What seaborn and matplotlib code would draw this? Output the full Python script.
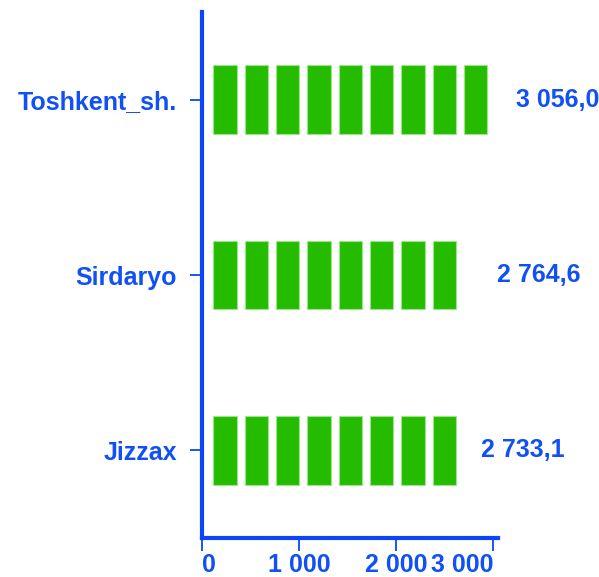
import matplotlib
matplotlib.use("Agg")
import matplotlib.pyplot as plt
import seaborn as sns
import pandas as pd

# data
REGIONS = ["Toshkent_sh.", "Sirdaryo", "Jizzax"]
VALUES = [3056.0, 2764.6, 2733.1]
VALUE_LABELS = ["3 056,0", "2 764,6", "2 733,1"]
XTICKS = [0, 1000, 2000, 3000]
XTICK_LABELS = ["0", "1 000", "2 000", "3 000"]

# pictograph tiles: one tile per TILE_UNIT of value
TILE_UNIT = 323
TILE_START = 116
TILE_W = 241

GREEN = "#25BC00"
BLUE = "#0B45F8"
TEXT_BLUE = "#1050F5"
FS = 18

sns.set_style("white")
plt.rcParams["font.family"] = ["Liberation Sans", "DejaVu Sans"]
plt.rcParams["font.weight"] = "bold"

df = pd.DataFrame({"region": REGIONS, "value": VALUES})
df["n_tiles"] = (df["value"] // TILE_UNIT).astype(int)
tiles = df.loc[df.index.repeat(df["n_tiles"])].copy()
tiles["k"] = tiles.groupby("region").cumcount()
tiles["w"] = TILE_W

fig = plt.figure(figsize=(5.99, 5.77), dpi=100)
ax = fig.add_axes([202 / 599, 39 / 577, 296 / 599, 526 / 577])

for k, grp in tiles.groupby("k"):
    sns.barplot(data=grp, x="w", y="region", order=REGIONS, orient="y",
                color=GREEN, saturation=1, errorbar=None, width=0.39,
                edgecolor="#9be58a", linewidth=0.8,
                left=TILE_START + k * TILE_UNIT, ax=ax)

ax.set_xlim(0, 3050)
ax.set_ylim(2.5, -0.5)
ax.set_xlabel("")
ax.set_ylabel("")

ax.set_xticks(XTICKS)
ax.set_xticklabels(XTICK_LABELS)
xl = ax.get_xticklabels()
xl[0].set_horizontalalignment("left")
xl[-1].set_horizontalalignment("right")

for side in ["top", "right"]:
    ax.spines[side].set_visible(False)
for side in ["left", "bottom"]:
    ax.spines[side].set_color(BLUE)
    ax.spines[side].set_linewidth(3)

ax.tick_params(axis="y", length=9, width=1.3, color=BLUE, pad=9,
               labelsize=FS, labelcolor=TEXT_BLUE, left=True)
ax.tick_params(axis="x", length=9, width=1.3, color=BLUE, pad=2,
               labelsize=FS, labelcolor=TEXT_BLUE, bottom=True)
for t in ax.get_yticklabels() + ax.get_xticklabels():
    t.set_fontweight("bold")

# value labels, nudged right of each bar end (pixel offsets from the picture)
label_off_px = [17, 27, 14]
for i, (v, lab) in enumerate(zip(VALUES, VALUE_LABELS)):
    ax.annotate(lab, xy=(v, i), xytext=(label_off_px[i] * 0.72, 0),
                textcoords="offset points", ha="left", va="center",
                fontsize=FS, fontweight="bold", color=TEXT_BLUE,
                annotation_clip=False)

fig.savefig("out.png", dpi=100)
